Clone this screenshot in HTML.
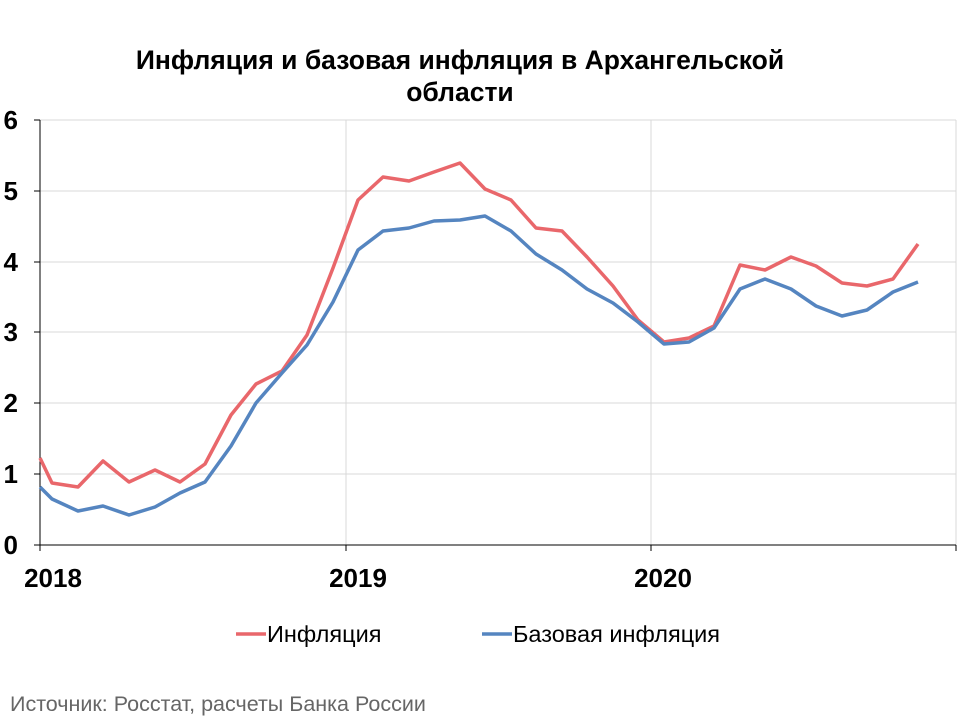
<!DOCTYPE html>
<html><head><meta charset="utf-8"><style>
body{margin:0;background:#fff;}
svg{display:block;font-family:"Liberation Sans",sans-serif;}
</style></head><body>
<svg width="960" height="720" viewBox="0 0 960 720">
<text x="460" y="69" text-anchor="middle" font-size="26.5" font-weight="bold">Инфляция и базовая инфляция в Архангельской</text>
<text x="460" y="101" text-anchor="middle" font-size="26.5" font-weight="bold">области</text>
<g stroke="#d9d9d9" stroke-width="1">
<line x1="40" y1="120" x2="956" y2="120"/>
<line x1="40" y1="191" x2="956" y2="191"/>
<line x1="40" y1="262" x2="956" y2="262"/>
<line x1="40" y1="332" x2="956" y2="332"/>
<line x1="40" y1="403" x2="956" y2="403"/>
<line x1="40" y1="474" x2="956" y2="474"/>
<line x1="346" y1="120" x2="346" y2="545"/>
<line x1="651" y1="120" x2="651" y2="545"/>
<line x1="956" y1="120" x2="956" y2="545"/>
</g>
<g stroke="#000" stroke-width="1">
<line x1="40" y1="120" x2="40" y2="545"/>
<line x1="40" y1="545" x2="956" y2="545"/>
<line x1="34" y1="120" x2="40" y2="120"/><line x1="34" y1="191" x2="40" y2="191"/>
<line x1="34" y1="262" x2="40" y2="262"/><line x1="34" y1="332" x2="40" y2="332"/>
<line x1="34" y1="403" x2="40" y2="403"/><line x1="34" y1="474" x2="40" y2="474"/>
<line x1="34" y1="545" x2="40" y2="545"/>
<line x1="40" y1="545" x2="40" y2="551"/><line x1="346" y1="545" x2="346" y2="551"/>
<line x1="651" y1="545" x2="651" y2="551"/><line x1="956" y1="545" x2="956" y2="551"/>
</g>
<g font-size="26" font-weight="bold" text-anchor="end">
<text x="18" y="129">6</text><text x="18" y="200">5</text><text x="18" y="271">4</text>
<text x="18" y="341">3</text><text x="18" y="412">2</text><text x="18" y="483">1</text><text x="18" y="554">0</text>
</g>
<g font-size="26" font-weight="bold" text-anchor="middle">
<text x="53" y="587">2018</text><text x="358" y="587">2019</text><text x="663" y="587">2020</text>
</g>
<polyline fill="none" stroke="#e9676b" stroke-width="3.5" stroke-linejoin="round" points="40,458 52,483 78,487 103,461 129,482 155,470 180,482 205,464 231,415 256,384 282,371 307,335 333,268 358,200 383,177 409,181 434,172 460,163 485,189 511,200 536,228 562,231 587,257 613,286 638,320 664,342 689,338 714,326 740,265 765,270 791,257 816,266 842,283 867,286 893,279 918,244"/>
<polyline fill="none" stroke="#5585c0" stroke-width="3.5" stroke-linejoin="round" points="40,487 52,499 78,511 103,506 129,515 155,507 180,493 205,482 231,446 256,403 282,373 307,345 333,302 358,250 383,231 409,228 434,221 460,220 485,216 511,231 536,254 562,270 587,289 613,303 638,322 664,344 689,342 714,328 740,289 765,279 791,289 816,306 842,316 867,310 893,292 918,282"/>
<line x1="236" y1="634" x2="266" y2="634" stroke="#e9676b" stroke-width="3.5"/>
<text x="267" y="642" font-size="23.5">Инфляция</text>
<line x1="482" y1="634" x2="512" y2="634" stroke="#5585c0" stroke-width="3.5"/>
<text x="513" y="642" font-size="23.5">Базовая инфляция</text>
<text x="10" y="711" font-size="21.5" fill="#666">Источник: Росстат, расчеты Банка России</text>
</svg>
</body></html>
